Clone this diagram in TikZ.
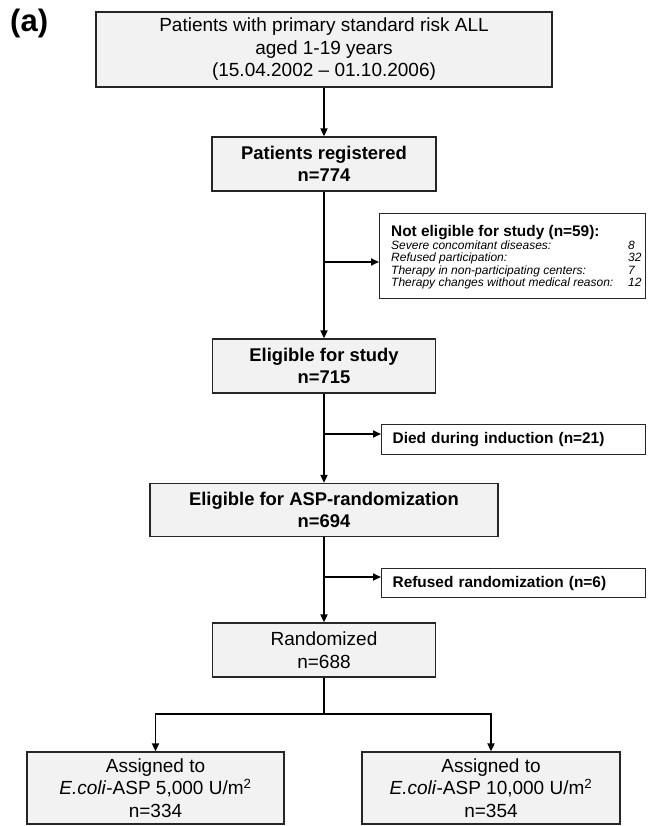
\documentclass[tikz,border=0pt]{standalone}
\usepackage{fontspec}
\setmainfont{Liberation Sans}
\usetikzlibrary{arrows.meta}
\begin{document}
\begin{tikzpicture}[x=1pt,y=-1pt,
  graybox/.style={draw=black!85, line width=1.3pt, fill=black!5, inner sep=0pt, align=center},
  whitebox/.style={draw=black!85, line width=1.3pt, fill=white, inner sep=0pt},
  regtext/.style={font=\fontsize{19}{22.5}\selectfont},
  boldtext/.style={font=\fontsize{18.4}{22}\selectfont\bfseries},
  sidetext/.style={font=\fontsize{15.4}{18}\selectfont\bfseries},
  conn/.style={draw=black, line width=1.8pt},
  arr/.style={conn, -{Triangle[length=8pt,width=7pt]}}
]
\useasboundingbox (0,0) rectangle (648,826);
\fill[white] (0,0) rectangle (648,826);

\node[font=\fontsize{31}{34}\selectfont\bfseries, anchor=north west, inner sep=0pt] (lab) at (10,9) {(a)};

\node[graybox, regtext, minimum width=456pt, minimum height=75pt] (top) at (324,49.5)
  {Patients with primary standard risk ALL\\aged 1-19 years\\(15.04.2002 -- 01.10.2006)};
\node[graybox, boldtext, minimum width=224pt, minimum height=54pt] (reg) at (324,164)
  {Patients registered\\n=774};
\node[graybox, boldtext, minimum width=223pt, minimum height=54pt] (elig) at (324,366)
  {Eligible for study\\n=715};
\node[graybox, boldtext, minimum width=348pt, minimum height=53pt] (asp) at (324,510)
  {Eligible for ASP-randomization\\n=694};
\node[graybox, regtext, minimum width=223pt, minimum height=54pt] (rand) at (324,650)
  {Randomized\\n=688};
\node[graybox, regtext, minimum width=257pt, minimum height=72pt] (a1) at (155.5,788)
  {Assigned to\\\textit{E.coli}-ASP 5,000 U/m\textsuperscript{2}\\n=334};
\node[graybox, regtext, minimum width=258pt, minimum height=72pt] (a2) at (491,788)
  {Assigned to\\\textit{E.coli}-ASP 10,000 U/m\textsuperscript{2}\\n=354};

% side boxes
\node[whitebox, minimum width=266pt, minimum height=85pt, anchor=north west] (ne) at (379,213) {};
\node[anchor=north west, inner sep=0pt, align=left] (netext) at (391,225)
  {{\fontsize{15.4}{17}\selectfont\bfseries Not eligible for study (n=59):}\\[0pt]
   {\fontsize{12}{12.4}\selectfont\itshape
   \begin{tabular}{@{}p{237pt}@{}l@{}}
   Severe concomitant diseases: & 8\\
   Refused participation: & 32\\
   Therapy in non-participating centers: & 7\\
   Therapy changes without medical reason: & 12
   \end{tabular}}};

\node[whitebox, sidetext, minimum width=264pt, minimum height=30pt, anchor=north west,
  text width=242pt, inner xsep=11pt, align=left] (died) at (381,424) {Died during induction (n=21)};
\node[whitebox, sidetext, minimum width=264pt, minimum height=29pt, anchor=north west,
  text width=242pt, inner xsep=11pt, align=left] (refu) at (381,568) {Refused randomization (n=6)};

% main flow
\draw[arr] (top) -- (reg);
\draw[arr] (reg) -- (elig);
\draw[arr] (elig) -- (asp);
\draw[arr] (asp) -- (rand);

\coordinate (j1) at (324,262);
\coordinate (j2) at (324,434);
\coordinate (j3) at (324,577);
\draw[arr] (j1) -- (j1 -| ne.west);
\draw[arr] (j2) -- (j2 -| died.west);
\draw[arr] (j3) -- (j3 -| refu.west);

\coordinate (br) at (324,714);
\draw[conn] (rand) -- (br);
\draw[arr] (br) -| (a1.north);
\draw[arr] (br) -| (a2.north);
\end{tikzpicture}
\end{document}
